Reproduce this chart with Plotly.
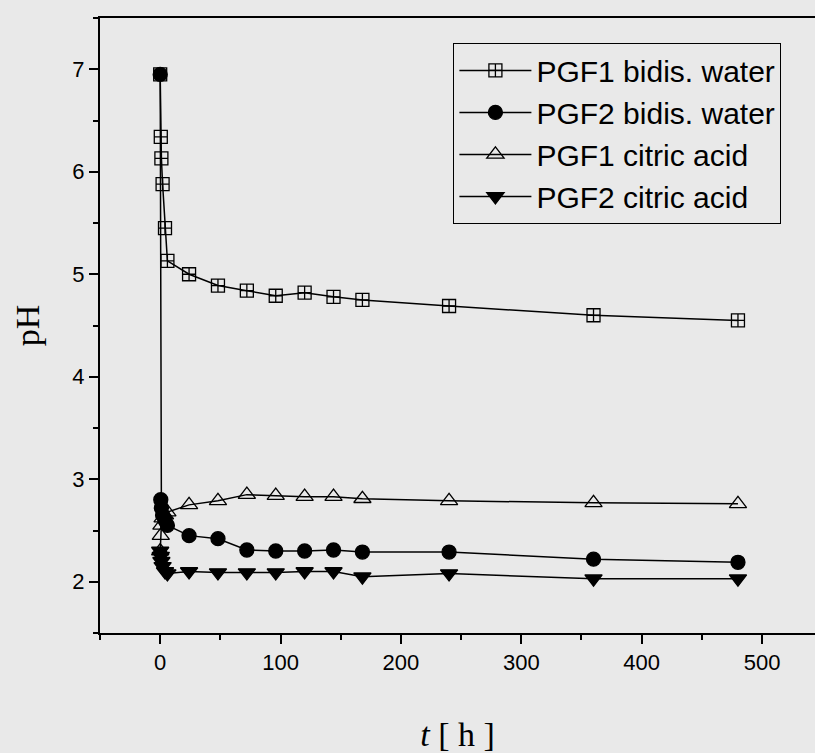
import plotly.graph_objects as go

t_h = [0, 0.5, 1, 2, 4, 6, 24, 48, 72, 96, 120, 144, 168, 240, 360, 480]
pgf1_water = [6.95, 6.34, 6.13, 5.88, 5.45, 5.13, 5.0, 4.89, 4.84, 4.79, 4.82, 4.78, 4.75, 4.69, 4.6, 4.55]
pgf2_water = [6.95, 2.8, 2.72, 2.65, 2.6, 2.55, 2.45, 2.42, 2.31, 2.3, 2.3, 2.31, 2.29, 2.29, 2.22, 2.19]
pgf1_citric = [2.3, 2.45, 2.55, 2.62, 2.65, 2.68, 2.75, 2.79, 2.85, 2.84, 2.83, 2.83, 2.81, 2.79, 2.77, 2.76]
pgf2_citric = [2.3, 2.25, 2.2, 2.15, 2.1, 2.08, 2.1, 2.09, 2.09, 2.09, 2.1, 2.1, 2.05, 2.08, 2.03, 2.03]

names = ["PGF1 bidis. water", "PGF2 bidis. water", "PGF1 citric acid", "PGF2 citric acid"]
series = [pgf1_water, pgf2_water, pgf1_citric, pgf2_citric]
symbols = ["square-cross-open", "circle", "triangle-up-open", "triangle-down"]
sizes = [13, 14, 15, 15]

fig = go.Figure()
for name, ys, sym, sz in zip(names, series, symbols, sizes):
    fig.add_trace(go.Scatter(
        x=t_h, y=ys, name=name, mode="lines+markers",
        line=dict(color="black", width=1.5),
        marker=dict(symbol=sym, size=sz, color="black",
                    line=dict(color="black", width=1.3)),
    ))

bg = "#e9e9e9"
fig.update_layout(
    width=815, height=753,
    margin=dict(l=100, r=0, t=18, b=120),
    paper_bgcolor=bg, plot_bgcolor=bg,
    showlegend=True,
    legend=dict(
        x=0.494, y=0.959, xanchor="left", yanchor="top",
        bgcolor=bg, bordercolor="black", borderwidth=1.2,
        font=dict(family="Liberation Sans, Arial", size=30, color="black"),
        itemwidth=72, tracegroupgap=0,
    ),
    xaxis=dict(
        range=[-50, 544], showgrid=False, zeroline=False,
        showline=True, linecolor="black", linewidth=2, mirror=True,
        ticks="outside", ticklen=9, tickwidth=1.5, tickcolor="black",
        dtick=100, tick0=0,
        minor=dict(ticks="outside", ticklen=5, dtick=50, tickcolor="black", tickwidth=1.5),
        tickfont=dict(family="Liberation Sans, Arial", size=22, color="black"),
        title=dict(text="<i>t</i> [ h ]", standoff=48,
                   font=dict(family="Liberation Serif, Times New Roman", size=34, color="black")),
    ),
    yaxis=dict(
        range=[1.5, 7.5], showgrid=False, zeroline=False,
        showline=True, linecolor="black", linewidth=2,
        ticks="outside", ticklen=9, tickwidth=1.5, tickcolor="black",
        dtick=1, tick0=0,
        minor=dict(ticks="outside", ticklen=5, dtick=0.5, tickcolor="black", tickwidth=1.5),
        tickfont=dict(family="Liberation Sans, Arial", size=22, color="black"),
        title=dict(text="pH", standoff=22,
                   font=dict(family="Liberation Serif, Times New Roman", size=34, color="black")),
    ),
)

fig.write_html("out.html", config={"displayModeBar": False},
               post_script="document.body.style.margin='0';")
